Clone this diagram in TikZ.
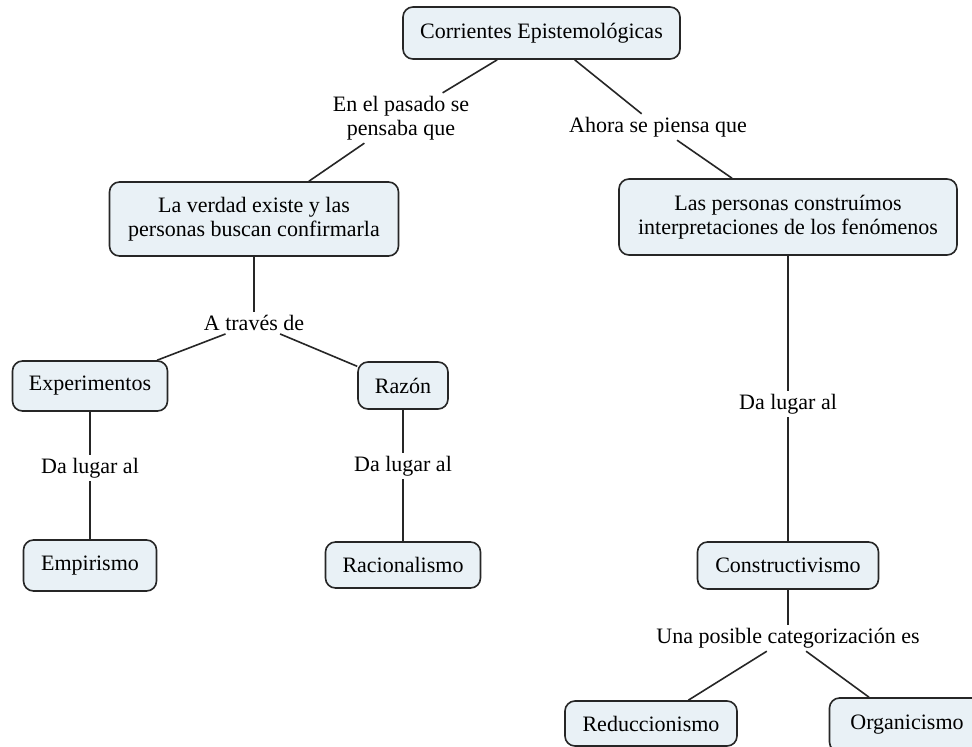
\documentclass[tikz,border=0pt]{standalone}
\usepackage{fontspec}
\setmainfont{Liberation Serif}
\definecolor{boxfill}{RGB}{233,241,246}
\begin{document}
\begin{tikzpicture}[x=1pt,y=-1pt,
  concept/.style={draw=black!85, line width=1.6pt, fill=boxfill, rounded corners=10pt,
    align=center, inner sep=0pt, font=\fontsize{22}{24}\selectfont},
  link/.style={align=center, inner sep=3pt, font=\fontsize{22}{24}\selectfont},
  conn/.style={draw=black!85, line width=1.6pt}]
\useasboundingbox (0,0) rectangle (972,747);
\clip (0,0) rectangle (972,747);
\fill[white] (0,0) rectangle (972,747);
% concepts
\node[concept, minimum width=277pt, minimum height=52pt] (top) at (541.5,33) {Corrientes Epistemológicas};
\node[concept, minimum width=289pt, minimum height=74pt] (verdad) at (254,219) {La verdad existe y las\\personas buscan confirmarla};
\node[concept, minimum width=338pt, minimum height=76pt] (personas) at (788,217) {Las personas construímos\\interpretaciones de los fenómenos};
\node[concept, minimum width=155pt, minimum height=50pt] (exp) at (90,386) {Experimentos};
\node[concept, minimum width=90pt, minimum height=47pt] (razon) at (403,385.5) {Razón};
\node[concept, minimum width=133pt, minimum height=51pt] (emp) at (90,565.5) {Empirismo};
\node[concept, minimum width=155pt, minimum height=46pt] (rac) at (403,565) {Racionalismo};
\node[concept, minimum width=181pt, minimum height=47pt] (cons) at (788,565.5) {Constructivismo};
\node[concept, minimum width=172pt, minimum height=45pt] (red) at (651,723.5) {Reduccionismo};
\node[concept, minimum width=155pt, minimum height=54pt] (org) at (907,725) {Organicismo};
% linking phrases
\node[link] (l1) at (401,118) {En el pasado se\\pensaba que};
\node[link] (l2) at (658,127) {Ahora se piensa que};
\node[link] (l3) at (254,323) {A través de};
\node[link] (l4) at (90,468) {Da lugar al};
\node[link] (l5) at (403,466) {Da lugar al};
\node[link] (l6) at (788,404) {Da lugar al};
\node[link] (l7) at (788,638) {Una posible categorización es};
% connectors
\draw[conn] (top) -- (l1);
\draw[conn] (l1) -- (verdad);
\draw[conn] (top) -- (l2);
\draw[conn] (l2) -- (personas);
\draw[conn] (verdad) -- (l3);
\draw[conn] (l3) -- (exp);
\draw[conn] (l3) -- (razon);
\draw[conn] (exp) -- (l4);
\draw[conn] (l4) -- (emp);
\draw[conn] (razon) -- (l5);
\draw[conn] (l5) -- (rac);
\draw[conn] (personas) -- (l6);
\draw[conn] (l6) -- (cons);
\draw[conn] (cons) -- (l7);
\draw[conn] (l7) -- (red);
\draw[conn] (l7) -- (org);
\end{tikzpicture}
\end{document}
